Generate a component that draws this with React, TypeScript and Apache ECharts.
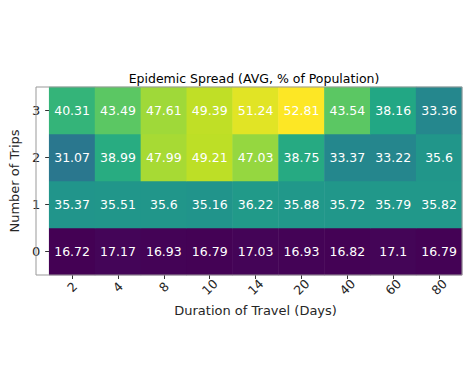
import React, { useEffect, useRef } from "react";
import * as echarts from "echarts";

const durations = ["2", "4", "8", "10", "14", "20", "40", "60", "80"];
const trips = ["0", "1", "2", "3"];
const trips0 = [16.72, 17.17, 16.93, 16.79, 17.03, 16.93, 16.82, 17.1, 16.79];
const trips1 = [35.37, 35.51, 35.6, 35.16, 36.22, 35.88, 35.72, 35.79, 35.82];
const trips2 = [31.07, 38.99, 47.99, 49.21, 47.03, 38.75, 33.37, 33.22, 35.6];
const trips3 = [40.31, 43.49, 47.61, 49.39, 51.24, 52.81, 43.54, 38.16, 33.36];
const rows = [trips0, trips1, trips2, trips3];

const viridis = [
  "#440154", "#482475", "#414487", "#355f8d", "#2a788e", "#21918c",
  "#22a884", "#44bf70", "#7ad151", "#bddf26", "#fde725",
];

export default function App() {
  const ref = useRef<HTMLDivElement>(null);
  useEffect(() => {
    const chart = echarts.init(ref.current!, null, { renderer: "svg" });
    const data: number[][] = [];
    rows.forEach((row, yi) => row.forEach((v, xi) => data.push([xi, yi, v])));
    const all = rows.flat();
    const font = "DejaVu Sans";
    const gl = 36, gt = 87, gw = 426, gh = 188;
    chart.setOption({
      animation: false,
      title: {
        text: "Epidemic Spread (AVG, % of Population)",
        left: gl + gw / 2,
        textAlign: "center",
        top: 67,
        textStyle: { fontFamily: font, fontSize: 12.5, fontWeight: "normal", color: "#000" },
      },
      grid: { left: gl, top: gt, width: gw, height: gh, containLabel: false },
      visualMap: {
        show: false,
        type: "continuous",
        min: Math.min(...all),
        max: Math.max(...all),
        inRange: { color: viridis },
      },
      xAxis: {
        type: "category",
        data: durations,
        name: "Duration of Travel (Days)",
        nameLocation: "middle",
        nameGap: 29,
        nameTextStyle: { fontFamily: font, fontSize: 13, color: "#262626" },
        axisLine: { show: false },
        axisTick: { show: true, alignWithLabel: true, length: 4, lineStyle: { color: "#333" } },
        axisLabel: {
          rotate: 45,
          align: "center",
          verticalAlign: "middle",
          margin: 12,
          fontFamily: font,
          fontSize: 12.5,
          color: "#262626",
        },
        splitLine: { show: false },
      },
      yAxis: {
        type: "category",
        data: trips,
        name: "Number of Trips",
        nameLocation: "middle",
        nameGap: 25,
        nameTextStyle: { fontFamily: font, fontSize: 13, color: "#262626" },
        axisLine: { show: false },
        axisTick: { show: true, alignWithLabel: true, length: 4, lineStyle: { color: "#333" } },
        axisLabel: { margin: 9, fontFamily: font, fontSize: 13, color: "#262626" },
        splitLine: { show: false },
      },
      graphic: [
        {
          type: "rect",
          z: 100,
          shape: { x: gl, y: gt, width: gw, height: gh },
          style: { fill: "none", stroke: "#999", lineWidth: 1 },
          silent: true,
        },
      ],
      series: [
        {
          type: "heatmap",
          data,
          label: {
            show: true,
            color: "#fff",
            fontFamily: font,
            fontSize: 12.5,
            formatter: (p: any) => String(p.value[2]),
          },
          itemStyle: { borderWidth: 0 },
          emphasis: { disabled: true },
        },
      ],
    });
    return () => chart.dispose();
  }, []);
  return (
    <div
      ref={ref}
      style={{ position: "absolute", left: 0, top: 0, width: 467, height: 371, background: "#fff" }}
    />
  );
}
